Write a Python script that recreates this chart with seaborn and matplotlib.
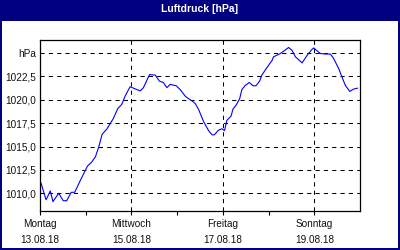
import matplotlib
matplotlib.use("Agg")
import matplotlib.pyplot as plt
import seaborn as sns
import pandas as pd
from matplotlib.patches import Rectangle
from matplotlib.ticker import FixedLocator

hours = [0.5, 3.2, 5.4, 6.8, 9.8, 12.2, 14.0, 16.4, 18.2, 20.9, 24.9, 27.0, 29.1,
         30.9, 32.6, 35.2, 37.9, 38.5, 40.8, 42.9, 44.7, 47.3, 49.6, 52.6, 54.3,
         57.5, 60.5, 62.7, 64.8, 66.6, 68.3, 71.5, 73.6, 76.2, 77.4, 79.7, 81.5,
         83.2, 85.8, 88.5, 90.3, 91.5, 93.7, 95.5, 96.9, 98.1, 100.3, 101.3, 103.0,
         104.8, 106.0, 107.8, 109.9, 111.8, 113.4, 115.3, 116.5, 118.8, 121.8,
         122.6, 126.2, 127.9, 130.5, 132.3, 134.1, 137.6, 140.2, 142.8, 143.7,
         145.1, 147.2, 149.8, 152.5, 154.2, 156.8, 158.6, 160.3, 162.6, 164.7, 166.8]
pressure = [1011.1, 1009.3, 1010.25, 1009.1, 1010.0, 1009.2, 1009.2, 1010.1, 1010.1,
            1011.25, 1012.9, 1013.3, 1013.9, 1015.0, 1016.3, 1016.9, 1017.8, 1018.0,
            1019.05, 1019.5, 1020.4, 1021.4, 1021.2, 1020.95, 1021.3, 1022.7, 1022.65,
            1022.0, 1021.85, 1021.3, 1021.65, 1021.5, 1021.1, 1020.4, 1020.2, 1019.9,
            1019.6, 1019.0, 1017.7, 1016.7, 1016.25, 1016.25, 1016.75, 1016.9, 1016.7,
            1017.8, 1018.25, 1019.0, 1019.45, 1020.1, 1021.1, 1021.55, 1021.85, 1021.5,
            1021.5, 1022.0, 1022.65, 1023.35, 1024.2, 1024.6, 1024.95, 1025.2, 1025.6,
            1025.3, 1024.6, 1023.95, 1024.75, 1025.4, 1025.55, 1025.3, 1024.95, 1024.9,
            1024.9, 1024.4, 1023.35, 1022.4, 1021.55, 1020.9, 1021.15, 1021.25]

day_names = ["Montag", "Mittwoch", "Freitag", "Sonntag"]
day_dates = ["13.08.18", "15.08.18", "17.08.18", "19.08.18"]
day_ticks = [0, 48, 96, 144]
minor_ticks = [24, 72, 120]
y_ticks = [1010.0, 1012.5, 1015.0, 1017.5, 1020.0, 1022.5, 1025.0]
y_labels = ["1010,0", "1012,5", "1015,0", "1017,5", "1020,0", "1022,5", "hPa"]
title = "Luftdruck [hPa]"

sns.set_style("white")
plt.rcParams['font.family'] = ['Liberation Sans', 'DejaVu Sans']

navy = "#000080"
fig = plt.figure(figsize=(4, 2.5), dpi=100, facecolor=navy)
fig.patches.append(Rectangle((2/400, 2/250), 396/400, 227/250, transform=fig.transFigure,
                             facecolor="white", edgecolor="none", zorder=-5))
fig.text(0.5, 1 - 9/250, title, color="white", fontsize=7.5, fontweight="bold",
         ha="center", va="center")

ax = fig.add_axes([40/400, (250-211)/250, 320/400, 171/250])
ax.set_facecolor("white")
df = pd.DataFrame({"h": hours, "p": pressure})
sns.lineplot(data=df, x="h", y="p", ax=ax, color="#0000ff", linewidth=0.8)

ax.set_xlim(0, 168)
ax.set_ylim(1008.1, 1026.4)
ax.set_xticks(day_ticks)
ax.set_xticklabels([f"{n}\n{d}" for n, d in zip(day_names, day_dates)],
                   fontsize=7.2, color="#101010", linespacing=1.7)
ax.xaxis.set_minor_locator(FixedLocator(minor_ticks))
ax.set_yticks(y_ticks)
ax.set_yticklabels(y_labels, fontsize=7.2, color="#101010")
ax.tick_params(axis="x", which="both", direction="out", length=3, width=0.8,
               color="black", pad=3, bottom=True)
ax.tick_params(axis="y", length=0, pad=3)
ax.set_xlabel("")
ax.set_ylabel("")
ax.grid(True, axis="both", which="major", color="black", linestyle=(0, (4, 4)),
        linewidth=0.75)
for s in ax.spines.values():
    s.set_color("black")
    s.set_linewidth(0.9)
    s.set_visible(True)

fig.savefig("out.png", dpi=100, facecolor=navy)
